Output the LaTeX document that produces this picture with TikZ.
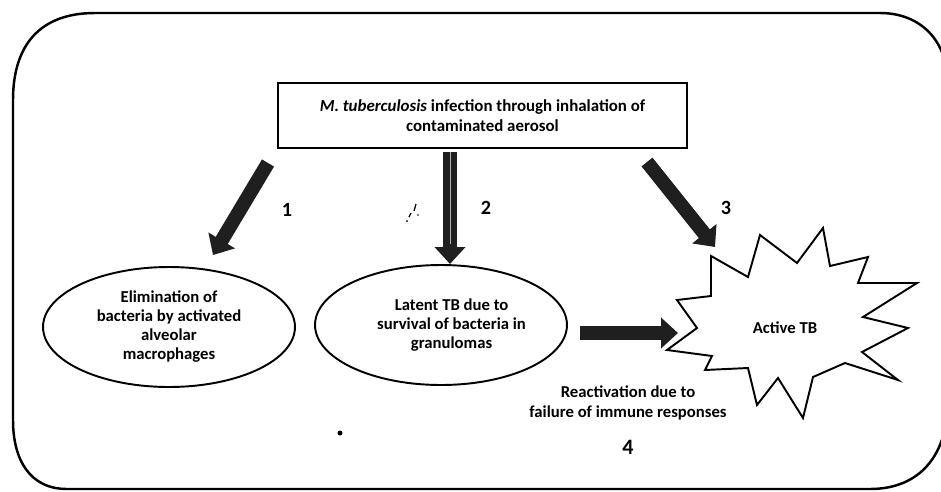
\documentclass[tikz,border=0pt]{standalone}
\usepackage{fontspec}
\setmainfont{Carlito}
\usetikzlibrary{arrows.meta,shapes.geometric}
\begin{document}
\begin{tikzpicture}[x=0.02cm,y=-0.02cm,
  txt/.style={font=\fontsize{9.5}{11.6}\selectfont\bfseries, align=center, inner sep=0pt},
  framestyle/.style={line width=1.4pt},
  box/.style={draw, line width=1.1pt, minimum width=8.18cm, minimum height=1.3cm, align=center, inner sep=0pt, font=\fontsize{9.6}{11.4}\selectfont\bfseries},
  oval/.style={draw, ellipse, line width=1.1pt, minimum width=5.04cm, minimum height=2.4cm, align=center, inner sep=0pt, font=\fontsize{9.5}{10.8}\selectfont\bfseries},
  fat/.style={line width=0.28cm, draw=black!88, -{Triangle[width=0.6cm,length=0.34cm]}},
  num/.style={font=\fontsize{11.5}{13}\selectfont\bfseries, inner sep=0pt},
]
\useasboundingbox (0,0) rectangle (941,491);

% outer rounded frame
\draw[framestyle] (13,100) .. controls (13,45) and (40,13) .. (95,13)
  -- (880,13) .. controls (920,13) and (948,40) .. (948,85)
  -- (948,400) .. controls (948,455) and (920,489) .. (870,489)
  -- (67,489) .. controls (30,489) and (13,460) .. (13,420) -- cycle;

% top box
\node[box] (top) at (482.5,115.5) {\textit{M. tuberculosis} infection through inhalation of\\contaminated aerosol};

% ellipses
\node[oval] (elim) at (169,327) {Elimination of\\bacteria by activated\\alveolar\\macrophages};
\node[oval] (latent) at (441,325) {\hspace*{12pt}Latent TB due to\\\hspace*{12pt}survival of bacteria in\\\hspace*{12pt}granulomas};

% star
\draw[line width=1.1pt] (823,228) -- (797,263) -- (760,235) -- (748,277) -- (711,256)
  -- (711,296) -- (677,300) -- (697,328) -- (667,350) -- (712,356) -- (705,370)
  -- (748,368) -- (757,405) -- (778,378) -- (803,418) -- (813,377) -- (845,363)
  -- (898,380) -- (862,352) -- (908,328) -- (863,317) -- (917,283) -- (858,283)
  -- (868,257) -- (830,266) -- cycle;
\node[txt] (active) at (785,328) {Active TB};

% arrow end points
\coordinate (s1) at (268,163);
\coordinate (e1) at (213,255);
\coordinate (s2) at (450,152);
\coordinate (e2) at (450,264);
\coordinate (s3) at (647,162);
\coordinate (e3) at (715,247);
\coordinate (s4) at (580,333);
\coordinate (e4) at (678,333);

\draw[fat] (s1) -- (e1);
\draw[fat] (s2) -- (e2);
\draw[gray!60, line width=0.4pt] (s2) -- (450,244);
\draw[fat] (s3) -- (e3);
\draw[fat] (s4) -- (e4);

% numbers
\node[num] (n1) at (287,210) {1};
\node[num] (n2) at (486,208) {2};
\node[num] (n3) at (726,208) {3};
\node[num, font=\fontsize{12.5}{14}\selectfont\bfseries] (n4) at (628,447) {4};

% reactivation label
\node[txt] (react) at (628,403) {Reactivation due to\\failure of immune responses};

% stray marks and dot
\fill (340,433) circle (2.5);
\draw[line width=0.7pt] (416,204) -- (414,211);
\draw[line width=0.7pt] (411,213) -- (409,217);
\fill (407,221) circle (1);
\fill (418,215) circle (0.8);
\end{tikzpicture}
\end{document}
